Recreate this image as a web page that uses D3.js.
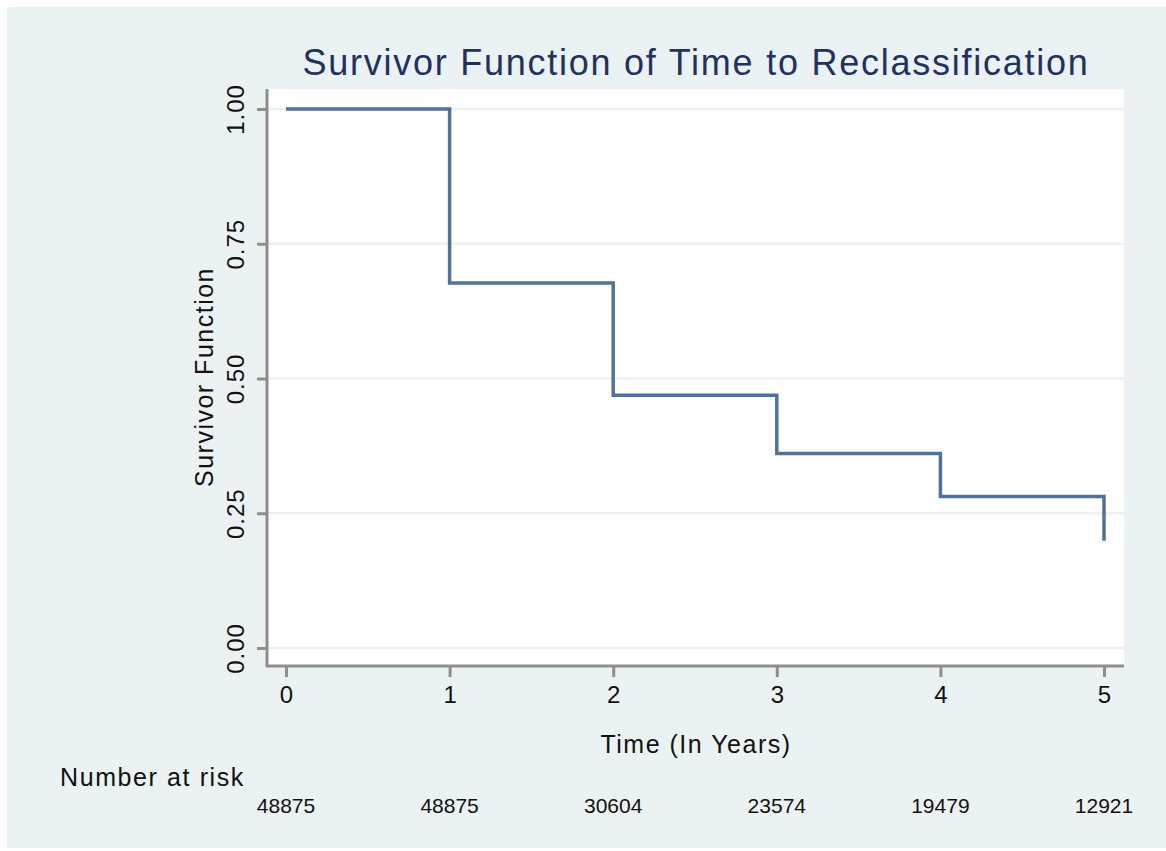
<!DOCTYPE html>
<html>
<head>
<meta charset="utf-8">
<script src="https://cdn.jsdelivr.net/npm/d3@7"></script>
<style>
  body { margin: 0; background: #fff; }
  text { font-family: "Liberation Sans", Arial, Helvetica, sans-serif; }
</style>
</head>
<body>
<div id="chart"></div>
<script>
// survivor estimates at each year (step function)
var years = [0, 1, 2, 3, 4, 5];
var survival = [1.0, 0.677, 0.469, 0.361, 0.281, 0.199];
var atRisk = [48875, 48875, 30604, 23574, 19479, 12921];
var yTicks = [0, 0.25, 0.5, 0.75, 1];

var width = 1166, height = 851,
  plot = {left: 268, right: 1124, top: 89, bottom: 665},
  bg = "#eaf2f3",
  axisColor = "#8e8e8e",
  lineColor = "#52729a";

var x = d3.scaleLinear().domain([0, 5]).range([286, 1104]);
var y = d3.scaleLinear().domain([0, 1]).range([648, 109]);

var svg = d3.select("#chart").append("svg")
  .attr("width", width)
  .attr("height", height);

// graph region
svg.append("rect")
  .attr("x", 7).attr("y", 7)
  .attr("width", width - 7).attr("height", 841)
  .attr("fill", bg);

// plot region
svg.append("rect")
  .attr("x", plot.left).attr("y", plot.top)
  .attr("width", plot.right - plot.left).attr("height", plot.bottom - plot.top)
  .attr("fill", "#fff");

// gridlines
svg.append("g")
  .selectAll("line")
  .data(yTicks)
  .enter().append("line")
    .attr("x1", plot.left).attr("x2", plot.right)
    .attr("y1", function(d) { return y(d); })
    .attr("y2", function(d) { return y(d); })
    .attr("stroke", bg)
    .attr("stroke-width", 2.5);

// survivor step line
var line = d3.line()
  .x(function(d) { return x(d[0]); })
  .y(function(d) { return y(d[1]); })
  .curve(d3.curveStepAfter);

svg.append("path")
  .datum(years.map(function(t, i) { return [t, survival[i]]; }))
  .attr("d", line)
  .attr("fill", "none")
  .attr("stroke", lineColor)
  .attr("stroke-width", 3.5);

// y axis
var yAxis = svg.append("g")
  .attr("transform", "translate(" + (plot.left - 1) + ",0)")
  .call(d3.axisLeft(y).tickValues(yTicks).tickSize(10).tickFormat(d3.format(".2f")));
yAxis.select(".domain").remove();
yAxis.selectAll("line").attr("stroke", axisColor).attr("stroke-width", 3);
yAxis.selectAll("text")
  .attr("transform", "rotate(-90)")
  .attr("x", 0).attr("y", -23).attr("dy", 0)
  .attr("text-anchor", "middle")
  .style("font-size", "24px")
  .style("letter-spacing", "1px")
  .attr("fill", "#111");

// x axis
var xAxis = svg.append("g")
  .attr("transform", "translate(0," + (plot.bottom + 1) + ")")
  .call(d3.axisBottom(x).tickValues(years).tickSize(11).tickFormat(d3.format("d")));
xAxis.select(".domain").remove();
xAxis.selectAll("line").attr("stroke", axisColor).attr("stroke-width", 3);
xAxis.selectAll("text")
  .attr("y", 37).attr("dy", 0)
  .style("font-size", "24px")
  .attr("fill", "#111");

// axis lines
svg.append("line")
  .attr("x1", plot.left - 1).attr("x2", plot.left - 1)
  .attr("y1", plot.top).attr("y2", plot.bottom + 2)
  .attr("stroke", axisColor).attr("stroke-width", 3);
svg.append("line")
  .attr("x1", plot.left - 2).attr("x2", plot.right)
  .attr("y1", plot.bottom + 1).attr("y2", plot.bottom + 1)
  .attr("stroke", axisColor).attr("stroke-width", 3);

// title
svg.append("text")
  .attr("x", (plot.left + plot.right) / 2).attr("y", 75)
  .attr("text-anchor", "middle")
  .style("font-size", "36px")
  .style("letter-spacing", "1.75px")
  .attr("fill", "#22315e")
  .text("Survivor Function of Time to Reclassification");

// axis titles
svg.append("text")
  .attr("transform", "translate(213," + ((plot.top + plot.bottom) / 2) + ") rotate(-90)")
  .attr("text-anchor", "middle")
  .style("font-size", "25px")
  .style("letter-spacing", "1.5px")
  .attr("fill", "#111")
  .text("Survivor Function");

svg.append("text")
  .attr("x", (plot.left + plot.right) / 2).attr("y", 753)
  .attr("text-anchor", "middle")
  .style("font-size", "25px")
  .style("letter-spacing", "1.5px")
  .attr("fill", "#111")
  .text("Time (In Years)");

// number at risk table
svg.append("text")
  .attr("x", 60).attr("y", 786)
  .style("font-size", "25px")
  .style("letter-spacing", "1.6px")
  .attr("fill", "#111")
  .text("Number at risk");

svg.append("g")
  .selectAll("text")
  .data(atRisk)
  .enter().append("text")
    .attr("x", function(d, i) { return x(years[i]); })
    .attr("y", 813)
    .attr("text-anchor", "middle")
    .style("font-size", "21px")
    .attr("fill", "#111")
    .text(function(d) { return d; });
</script>
</body>
</html>
